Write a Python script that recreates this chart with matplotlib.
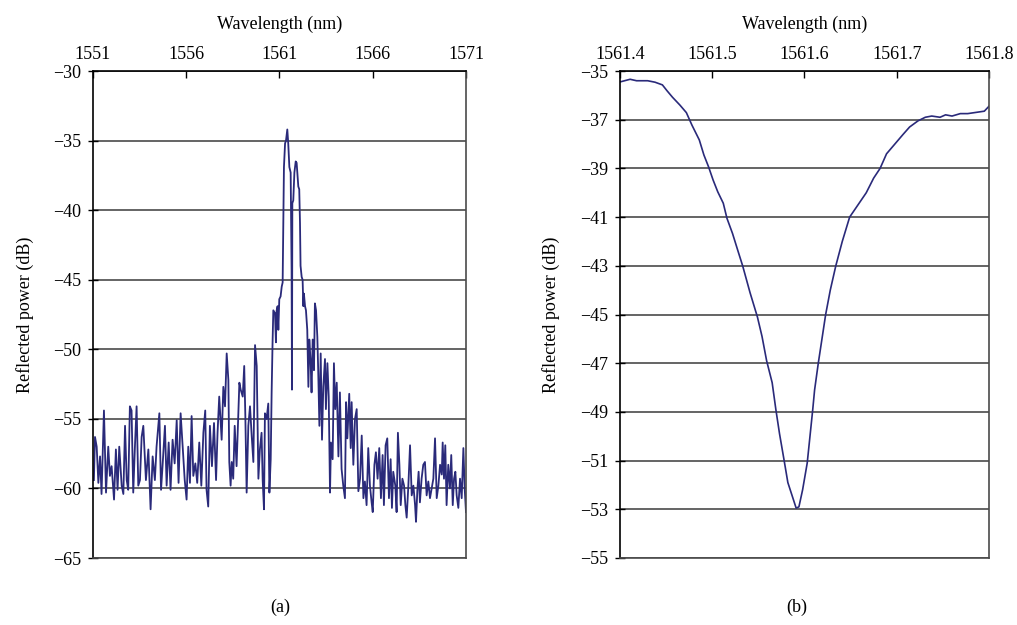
import matplotlib
matplotlib.use("Agg")
import matplotlib.pyplot as plt

plt.rcParams['font.family'] = ['Liberation Serif', 'DejaVu Serif']
plt.rcParams['font.size'] = 13

# (a) broad scan
wl_a = [1551.05, 1551.11, 1551.20, 1551.29, 1551.38, 1551.46, 1551.59, 1551.70, 1551.82, 1551.91,
        1552.00, 1552.13, 1552.23, 1552.32, 1552.41, 1552.54, 1552.63, 1552.72, 1552.81, 1552.89,
        1552.98, 1553.07, 1553.16, 1553.25, 1553.34, 1553.43, 1553.52, 1553.61, 1553.70, 1553.84,
        1553.97, 1554.09, 1554.20, 1554.32, 1554.41, 1554.56, 1554.65, 1554.74, 1554.86, 1554.95,
        1555.06, 1555.16, 1555.27, 1555.38, 1555.49, 1555.59, 1555.70, 1555.81, 1555.92, 1556.02,
        1556.11, 1556.20, 1556.29, 1556.38, 1556.49, 1556.59, 1556.70, 1556.81, 1556.92, 1557.02,
        1557.09, 1557.18, 1557.27, 1557.38, 1557.49, 1557.60, 1557.68, 1557.77, 1557.90, 1557.99,
        1558.08, 1558.17, 1558.26, 1558.31, 1558.38, 1558.44, 1558.52, 1558.60, 1558.70, 1558.85,
        1558.92, 1559.03, 1559.11, 1559.17, 1559.24, 1559.33, 1559.42, 1559.51, 1559.60, 1559.69,
        1559.78, 1559.87, 1559.95, 1560.04, 1560.10, 1560.17, 1560.22, 1560.31, 1560.40, 1560.46,
        1560.53, 1560.58, 1560.63, 1560.67, 1560.76, 1560.81, 1560.85, 1560.90, 1560.94, 1560.99,
        1561.06, 1561.12, 1561.17, 1561.21, 1561.24, 1561.30, 1561.35, 1561.42, 1561.47, 1561.53,
        1561.60, 1561.65, 1561.67, 1561.69, 1561.74, 1561.80, 1561.87, 1561.92, 1562.01, 1562.06,
        1562.10, 1562.13, 1562.19, 1562.24, 1562.28, 1562.31, 1562.37, 1562.42, 1562.49, 1562.55,
        1562.60, 1562.67, 1562.72, 1562.78, 1562.85, 1562.90, 1562.96, 1563.03, 1563.08, 1563.14,
        1563.21, 1563.28, 1563.35, 1563.44, 1563.49, 1563.57, 1563.64, 1563.71, 1563.76, 1563.85,
        1563.92, 1563.99, 1564.07, 1564.16, 1564.24, 1564.33, 1564.42, 1564.51, 1564.57, 1564.64,
        1564.74, 1564.82, 1564.87, 1564.96, 1565.05, 1565.14, 1565.23, 1565.32, 1565.41, 1565.50,
        1565.58, 1565.67, 1565.76, 1565.85, 1565.94, 1566.00, 1566.09, 1566.17, 1566.26, 1566.35,
        1566.44, 1566.53, 1566.60, 1566.69, 1566.78, 1566.87, 1566.96, 1567.03, 1567.10, 1567.21,
        1567.28, 1567.35, 1567.43, 1567.50, 1567.59, 1567.68, 1567.75, 1567.82, 1567.91, 1568.00,
        1568.09, 1568.18, 1568.27, 1568.32, 1568.39, 1568.46, 1568.53, 1568.62, 1568.71, 1568.80,
        1568.89, 1568.98, 1569.07, 1569.16, 1569.25, 1569.34, 1569.43, 1569.52, 1569.61, 1569.70,
        1569.75, 1569.82, 1569.89, 1569.96, 1570.05, 1570.14, 1570.21, 1570.29, 1570.36, 1570.43,
        1570.50, 1570.59, 1570.68, 1570.77, 1570.86, 1570.93, 1571.00]
pw_a = [-59.4, -56.3, -57.0, -59.6, -57.7, -60.4, -54.4, -60.3, -57.0, -59.1,
        -58.4, -60.8, -57.2, -60.1, -57.0, -59.8, -60.4, -55.5, -59.4, -60.1,
        -54.1, -54.4, -60.3, -57.0, -54.1, -59.8, -59.4, -56.3, -55.5, -59.4,
        -57.2, -61.5, -57.7, -59.4, -57.0, -54.6, -60.1, -58.2, -55.5, -59.8,
        -56.7, -60.1, -56.5, -58.2, -55.1, -59.6, -54.6, -57.0, -59.4, -60.8,
        -57.0, -59.6, -54.8, -59.1, -58.2, -59.6, -56.7, -59.8, -56.0, -54.4,
        -60.1, -61.3, -55.5, -58.4, -55.3, -59.4, -56.0, -53.4, -56.5, -52.7,
        -54.1, -50.3, -52.2, -58.1, -59.8, -58.1, -59.3, -55.5, -58.4, -52.4,
        -52.9, -53.4, -51.2, -54.8, -60.3, -55.5, -54.1, -56.2, -58.1, -49.7,
        -51.2, -59.3, -57.2, -56.0, -59.4, -61.5, -54.6, -55.0, -53.9, -60.3,
        -57.9, -53.1, -49.5, -47.2, -47.4, -49.5, -47.2, -46.9, -48.6, -46.4,
        -46.2, -45.5, -45.2, -40.2, -36.9, -35.2, -35.0, -34.2, -35.2, -36.9,
        -37.3, -44.3, -52.9, -39.5, -39.3, -37.3, -36.5, -36.6, -38.3, -38.5,
        -40.9, -44.0, -44.8, -45.0, -46.9, -46.0, -46.9, -47.2, -48.6, -52.7,
        -49.3, -50.9, -53.1, -49.3, -51.5, -46.7, -47.2, -49.1, -51.7, -55.5,
        -50.3, -56.5, -52.7, -50.7, -54.3, -51.0, -53.4, -60.3, -56.7, -57.9,
        -51.0, -54.3, -52.4, -57.7, -53.1, -58.6, -59.8, -60.7, -53.8, -56.4,
        -53.2, -57.1, -53.8, -58.3, -55.0, -54.3, -60.2, -59.3, -56.2, -60.7,
        -59.5, -61.2, -57.1, -59.8, -61.0, -61.7, -58.3, -57.4, -59.3, -57.1,
        -60.7, -57.6, -61.2, -56.9, -56.4, -60.7, -57.9, -61.4, -58.8, -59.8,
        -61.7, -56.0, -58.3, -61.2, -59.3, -59.8, -61.2, -62.1, -59.8, -56.9,
        -60.5, -59.8, -61.2, -62.4, -60.2, -58.8, -61.0, -59.3, -58.3, -58.1,
        -60.5, -59.5, -60.7, -60.0, -59.3, -56.4, -60.7, -59.8, -58.3, -59.0,
        -56.7, -59.3, -56.9, -61.2, -58.3, -60.0, -57.6, -61.2, -59.3, -58.8,
        -60.5, -61.4, -59.3, -60.7, -57.1, -60.0, -61.7]

# (b) zoomed scan around the dip
wl_b = [1561.401, 1561.411, 1561.418, 1561.430, 1561.438, 1561.446, 1561.451, 1561.457, 1561.465,
        1561.472, 1561.478, 1561.486, 1561.491, 1561.496, 1561.501, 1561.506, 1561.512, 1561.516,
        1561.522, 1561.528, 1561.533, 1561.541, 1561.549, 1561.554, 1561.559, 1561.565, 1561.569,
        1561.573, 1561.578, 1561.582, 1561.588, 1561.591, 1561.594, 1561.598, 1561.603, 1561.606,
        1561.609, 1561.611, 1561.615, 1561.617, 1561.623, 1561.628, 1561.634, 1561.641, 1561.649,
        1561.658, 1561.667, 1561.675, 1561.682, 1561.689, 1561.698, 1561.707, 1561.714, 1561.723,
        1561.731, 1561.738, 1561.747, 1561.753, 1561.760, 1561.769, 1561.777, 1561.786, 1561.795,
        1561.800]
pw_b = [-35.44, -35.34, -35.40, -35.40, -35.46, -35.57, -35.81, -36.08, -36.40,
        -36.71, -37.22, -37.83, -38.45, -38.93, -39.48, -39.96, -40.43, -41.05,
        -41.67, -42.40, -43.00, -44.10, -45.10, -45.90, -46.90, -47.80, -48.90,
        -49.90, -51.00, -51.90, -52.60, -52.95, -52.90, -52.20, -51.10, -50.00,
        -48.90, -48.10, -47.00, -46.50, -45.00, -44.00, -43.00, -42.00, -41.00,
        -40.50, -40.00, -39.40, -39.00, -38.40, -38.00, -37.60, -37.30, -37.05,
        -36.90, -36.85, -36.90, -36.80, -36.85, -36.75, -36.75, -36.70, -36.65,
        -36.45]

xticks_a = [1551, 1556, 1561, 1566, 1571]
yticks_a = [-30, -35, -40, -45, -50, -55, -60, -65]
xticks_b = [1561.4, 1561.5, 1561.6, 1561.7, 1561.8]
yticks_b = [-35, -37, -39, -41, -43, -45, -47, -49, -51, -53, -55]

line_col = '#2a2a7a'
grid_col = '#4a4a4a'

fig = plt.figure(figsize=(10.17, 6.25), dpi=100)
ax1 = fig.add_axes([0.0914, 0.1072, 0.3668, 0.7792])
ax2 = fig.add_axes([0.6096, 0.1072, 0.3628, 0.7792])


def style(ax, xt, yt, xlab_fmt):
    ax.set_xlim(xt[0], xt[-1])
    ax.set_ylim(yt[-1], yt[0])
    ax.set_xticks(xt)
    ax.set_xticklabels([xlab_fmt(v) for v in xt])
    ax.set_yticks(yt)
    ax.set_yticklabels([f'\u2212{abs(v)}' for v in yt])
    ax.xaxis.tick_top()
    ax.xaxis.set_label_position('top')
    ax.tick_params(axis='x', direction='in', length=5, width=1, pad=6, colors='black')
    ax.tick_params(axis='y', direction='inout', length=7, width=1, pad=5)
    ax.yaxis.grid(True, color=grid_col, lw=1.2)
    ax.set_axisbelow(True)
    for s in ['top', 'left']:
        ax.spines[s].set_color('black')
        ax.spines[s].set_linewidth(1.2)
    for s in ['right', 'bottom']:
        ax.spines[s].set_color(grid_col)
        ax.spines[s].set_linewidth(1.2)
    ax.set_xlabel('Wavelength (nm)', labelpad=12)
    ax.set_ylabel('Reflected power (dB)', labelpad=14)


ax1.plot(wl_a, pw_a, color=line_col, lw=1.3)
style(ax1, xticks_a, yticks_a, lambda v: f'{v}')

ax2.plot(wl_b, pw_b, color=line_col, lw=1.2)
style(ax2, xticks_b, yticks_b, lambda v: f'{v:.1f}')

fig.text(280 / 1017, 1 - 607 / 625, '(a)', ha='center', va='center')
fig.text(797 / 1017, 1 - 607 / 625, '(b)', ha='center', va='center')

fig.savefig('out.png', dpi=100)
